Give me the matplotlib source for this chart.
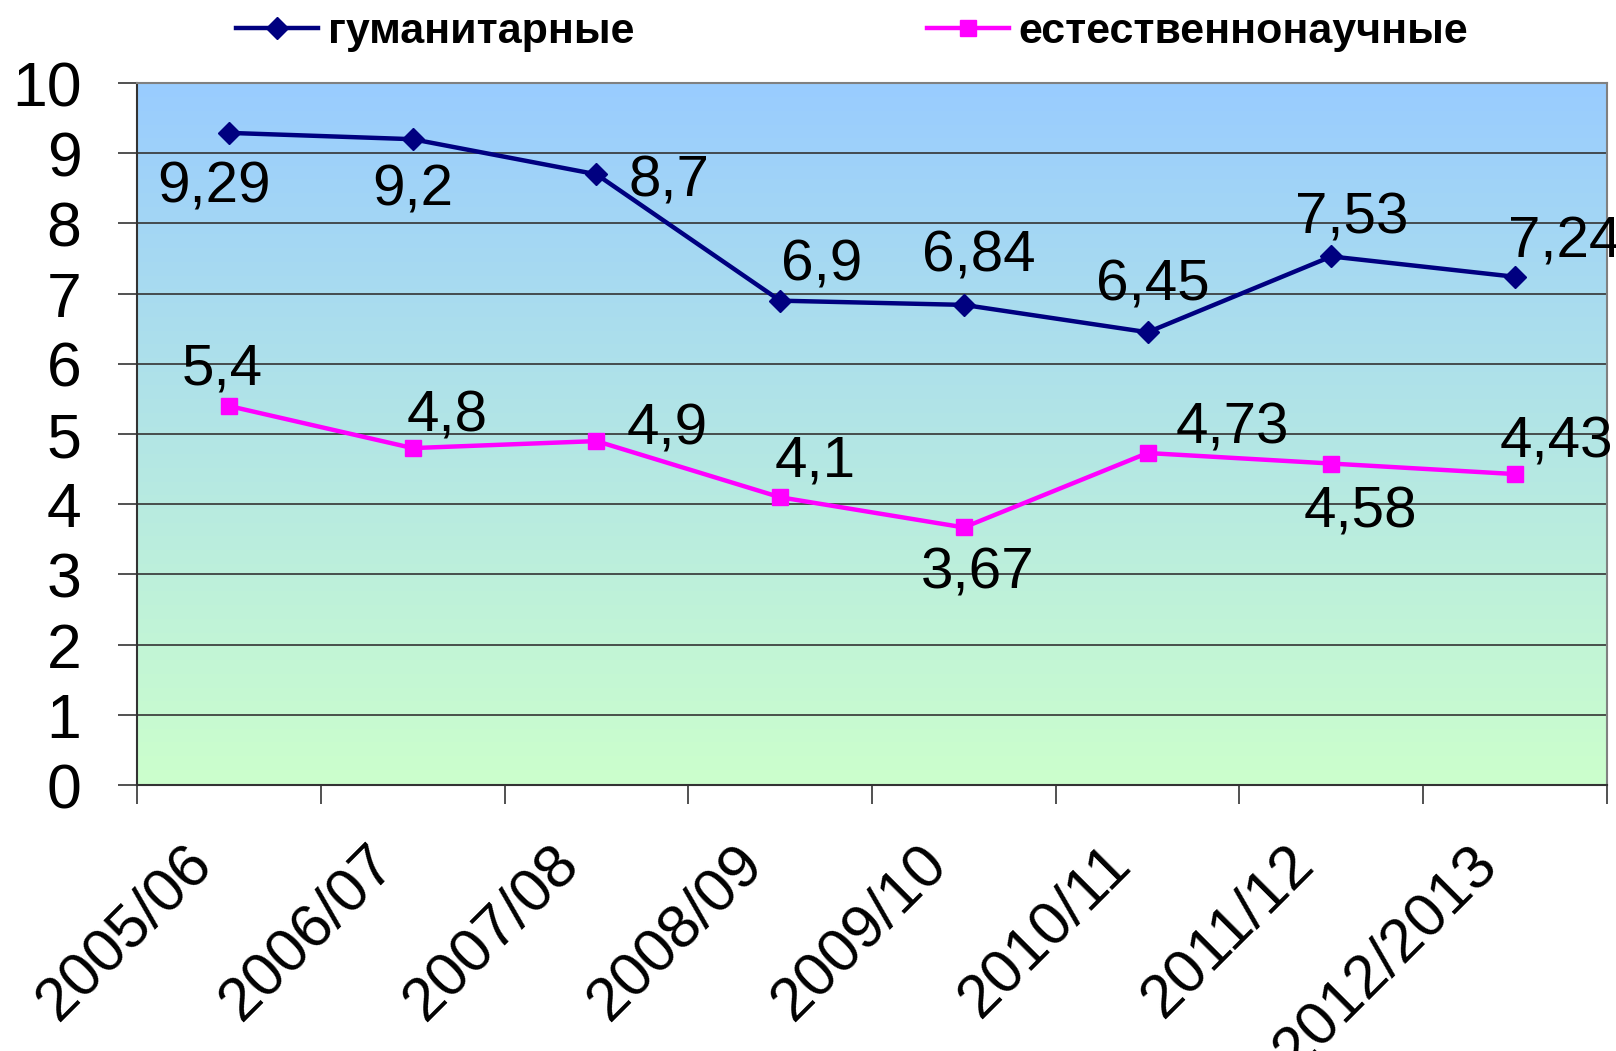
import numpy as np
import matplotlib
matplotlib.use("Agg")
import matplotlib.pyplot as plt
from matplotlib.colors import LinearSegmentedColormap
from matplotlib.lines import Line2D

plt.rcParams['font.family'] = ['Liberation Sans', 'DejaVu Sans']

categories = ["2005/06", "2006/07", "2007/08", "2008/09", "2009/10", "2010/11", "2011/12", "2012/2013"]
humanities = [9.29, 9.2, 8.7, 6.9, 6.84, 6.45, 7.53, 7.24]
natural = [5.4, 4.8, 4.9, 4.1, 3.67, 4.73, 4.58, 4.43]
hum_labels = ["9,29", "9,2", "8,7", "6,9", "6,84", "6,45", "7,53", "7,24"]
nat_labels = ["5,4", "4,8", "4,9", "4,1", "3,67", "4,73", "4,58", "4,43"]
series_names = ["гуманитарные", "естественнонаучные"]

# label offsets in points (layout only)
hum_off = [(-11, -39), (0, -37), (52, -5), (30, 25), (11, 35), (4, 34), (15, 27), (36, 25)]
nat_off = [(-5, 26), (25, 23), (51, 8), (25, 26), (10, -33), (61, 18), (21, -35), (30, 23)]

leg_prop = {'size': 31, 'weight': 'bold'}

fig = plt.figure(figsize=(16.16, 10.51), dpi=100)
ax = fig.add_axes([0.0848, 0.253, 0.9096, 0.668])

x = np.arange(len(categories)) + 0.5
ax.set_xlim(0, len(categories))
ax.set_ylim(0, 10)

# gradient background
cmap = LinearSegmentedColormap.from_list("bg", ["#CCFFCC", "#99CCFF"])
grad = np.linspace(0, 1, 256).reshape(-1, 1)
ax.imshow(grad, aspect='auto', cmap=cmap, origin='lower',
          extent=[0, len(categories), 0, 10], zorder=0)

for yv in range(1, 10):
    ax.axhline(yv, color='#333333', lw=1.2, zorder=1)

navy = "#000080"
mag = "#FF00FF"
ax.plot(x, humanities, color=navy, lw=3.2, marker='D', ms=11, zorder=3)
ax.plot(x, natural, color=mag, lw=3.2, marker='s', ms=11, zorder=3)

for xi, v, t, off in zip(x, humanities, hum_labels, hum_off):
    ax.annotate(t, (xi, v), xytext=off, textcoords='offset points',
                ha='center', va='center', fontsize=42, color='black', zorder=4,
                annotation_clip=False)
for xi, v, t, off in zip(x, natural, nat_labels, nat_off):
    ax.annotate(t, (xi, v), xytext=off, textcoords='offset points',
                ha='center', va='center', fontsize=42, color='black', zorder=4,
                annotation_clip=False)

ax.set_yticks(range(0, 11))
ax.set_yticklabels([str(i) for i in range(0, 11)], fontsize=45)
ax.set_xticks(np.arange(0, len(categories) + 1))
ax.set_xticklabels([])

# category labels, rotated, placed below each category center
xt = ax.get_xaxis_transform()
for xi, cat in zip(x, categories):
    ax.annotate(cat, (xi, 0), xycoords=xt, xytext=(-33, -36), textcoords='offset points',
                ha='right', va='top', rotation=45, rotation_mode='anchor',
                fontsize=44, color='black', annotation_clip=False)

ax.tick_params(axis='x', which='major', length=14, width=1.2, color='#333333', direction='out')
ax.tick_params(axis='y', length=14, width=1.2, color='#333333', direction='out', pad=26)

for side in ['top', 'right']:
    ax.spines[side].set_color('#808080')
    ax.spines[side].set_linewidth(1.5)
for side in ['left', 'bottom']:
    ax.spines[side].set_color('#333333')
    ax.spines[side].set_linewidth(1.5)

h1 = Line2D([0], [0], color=navy, lw=3.2, marker='D', ms=11)
h2 = Line2D([0], [0], color=mag, lw=3.2, marker='s', ms=11)
for h, name, xpos in [(h1, series_names[0], 236 / 1616), (h2, series_names[1], 927 / 1616)]:
    fig.legend([h], [name], loc='center left', bbox_to_anchor=(xpos, 1 - 32 / 1051),
               frameon=False, borderpad=0, borderaxespad=0, handlelength=1.9,
               handletextpad=0.23, prop=leg_prop)

fig.savefig("out.png", dpi=100)
